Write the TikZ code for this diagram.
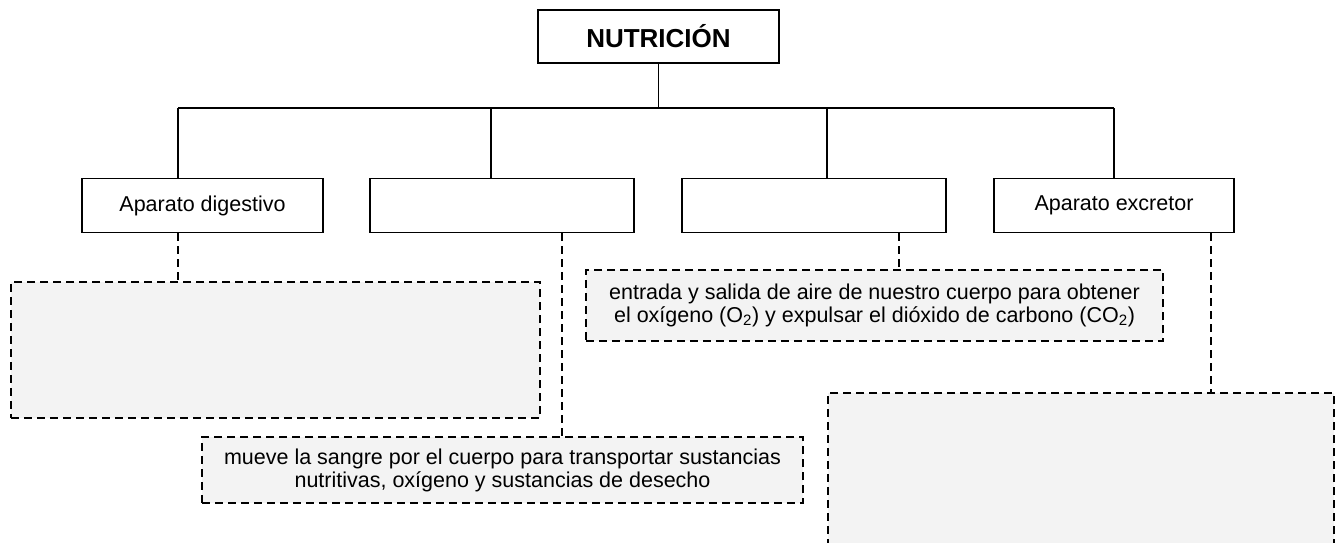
\documentclass[tikz,border=0pt]{standalone}
\usepackage{fontspec}
\setmainfont{Liberation Sans}
\definecolor{boxfill}{HTML}{F3F3F3}
\begin{document}
\begin{tikzpicture}[x=1pt,y=-1pt,
  solidbox/.style={draw=black,line width=1.5pt,rectangle,inner sep=0pt,align=center,
     font=\fontsize{21.5}{23}\selectfont},
  dashbox/.style={draw=black,line width=1.5pt,rectangle,inner sep=0pt,align=center,fill=boxfill,
     dash pattern=on 8pt off 5pt,font=\fontsize{21.5}{23}\selectfont},
  tline/.style={line width=1.5pt},
  dline/.style={line width=1.5pt,dash pattern=on 8pt off 5pt}]
\useasboundingbox (0,0) rectangle (1336,542);
\clip (0,0) rectangle (1336,542);
% main box
\node[solidbox,minimum width=241pt,minimum height=53pt,font=\fontsize{26}{28}\selectfont\bfseries] (nut) at (658.5,36.5) {NUTRICIÓN};
% second level boxes
\node[solidbox,minimum width=241pt,minimum height=54pt] (b1) at (202.5,205.5) {Aparato digestivo};
\node[solidbox,minimum width=264pt,minimum height=54pt] (b2) at (502,205.5) {};
\node[solidbox,minimum width=264pt,minimum height=54pt] (b3) at (814,205.5) {};
\node[solidbox,minimum width=240pt,minimum height=54pt] (b4) at (1114,205.5) {Aparato excretor};
% dashed boxes
\node[dashbox,minimum width=529pt,minimum height=136pt] (dA) at (275.5,350) {};
\node[dashbox,minimum width=601pt,minimum height=66pt] (dB) at (502.5,470) {mueve la sangre por el cuerpo para transportar sustancias\\nutritivas, oxígeno y sustancias de desecho};
\node[dashbox,minimum width=577pt,minimum height=71pt] (dC) at (874.5,305.5) {entrada y salida de aire de nuestro cuerpo para obtener\\el oxígeno (O\textsubscript{2}) y expulsar el dióxido de carbono (CO\textsubscript{2})};
\node[dashbox,minimum width=506pt,minimum height=220pt] (dD) at (1081,503) {};
% tree connectors
\coordinate (j0) at (nut.south |- 0,108);
\coordinate (j1) at (178,108);
\coordinate (j2) at (491,108);
\coordinate (j3) at (827,108);
\coordinate (j4) at (1114,108);
\draw[tline] (nut.south) -- (j0);
\draw[tline] (j1) -- (j4);
\draw[tline] (j1) -- (j1 |- b1.north);
\draw[tline] (j2) -- (j2 |- b2.north);
\draw[tline] (j3) -- (j3 |- b3.north);
\draw[tline] (j4) -- (j4 |- b4.north);
% dashed connectors
\coordinate (k1) at (178,0);
\coordinate (k2) at (562,0);
\coordinate (k3) at (899,0);
\coordinate (k4) at (1211,0);
\draw[dline] (k1 |- b1.south) -- (k1 |- dA.north);
\draw[dline] (k2 |- b2.south) -- (k2 |- dB.north);
\draw[dline] (k3 |- b3.south) -- (k3 |- dC.north);
\draw[dline] (k4 |- b4.south) -- (k4 |- dD.north);
\end{tikzpicture}
\end{document}
